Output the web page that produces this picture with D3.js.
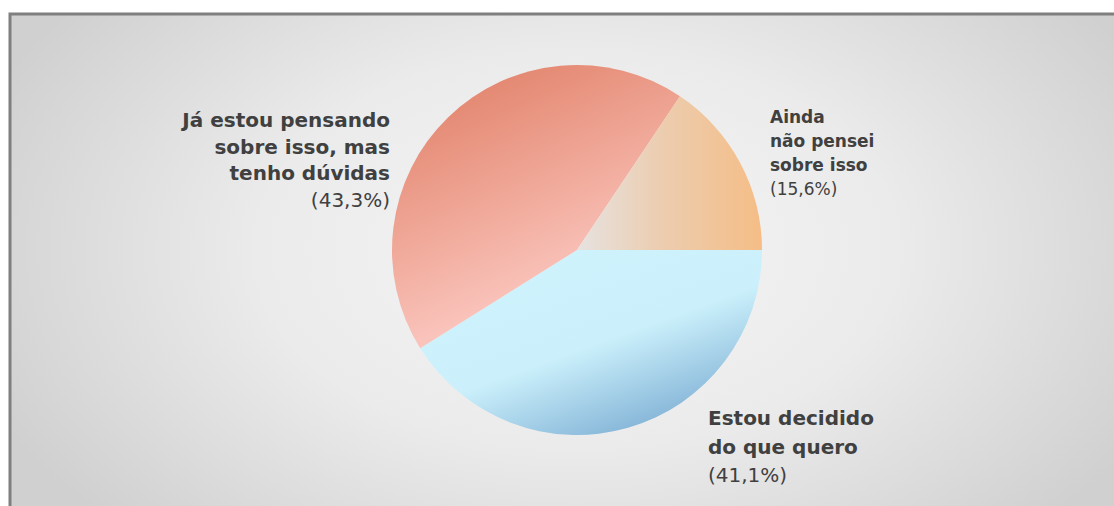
<!DOCTYPE html>
<html>
<head>
<meta charset="utf-8">
<script src="https://cdn.jsdelivr.net/npm/d3@7"></script>
<style>
  html, body { margin: 0; padding: 0; background: #ffffff; }
  svg { display: block; }
</style>
</head>
<body>
<svg id="chart" width="1114" height="506"></svg>
<script>
// Survey answers, in drawing order (clockwise from 3 o'clock)
const categories = ["Estou decidido do que quero", "Já estou pensando sobre isso, mas tenho dúvidas", "Ainda não pensei sobre isso"];
const values = [41.1, 43.3, 15.6];
const percentLabels = ["(41,1%)", "(43,3%)", "(15,6%)"];
const labelLines = [
  ["Estou decidido", "do que quero"],
  ["Já estou pensando", "sobre isso, mas", "tenho dúvidas"],
  ["Ainda", "não pensei", "sobre isso"]
];

const W = 1114, H = 506;
const cx = 577, cy = 250, R = 185;

const svg = d3.select("#chart");
const defs = svg.append("defs");

// Background: soft radial gray
const bg = defs.append("radialGradient").attr("id", "bgGrad")
  .attr("gradientUnits", "userSpaceOnUse")
  .attr("cx", cx).attr("cy", cy).attr("r", 640)
  .attr("gradientTransform", `translate(${cx},${cy}) scale(1,0.62) translate(${-cx},${-cy})`);
bg.append("stop").attr("offset", "0").attr("stop-color", "#f5f5f5");
bg.append("stop").attr("offset", "0.5").attr("stop-color", "#ebebeb");
bg.append("stop").attr("offset", "1").attr("stop-color", "#d0d0d0");

svg.append("rect").attr("x", 10).attr("y", 14).attr("width", W).attr("height", H)
  .attr("fill", "url(#bgGrad)")
  .attr("stroke", "#7f7f7f").attr("stroke-width", 3);

// Slice gradients
function linGrad(id, x1, y1, x2, y2, stops) {
  const g = defs.append("linearGradient").attr("id", id)
    .attr("x1", x1).attr("y1", y1).attr("x2", x2).attr("y2", y2);
  stops.forEach(s => g.append("stop").attr("offset", s[0]).attr("stop-color", s[1]));
}
linGrad("gBlue", "0.15", "0.1", "0.75", "1", [["0", "#cff3fd"], ["0.5", "#cbf0fb"], ["1", "#78aad1"]]);
linGrad("gRed", "0.1", "0", "0.55", "1", [["0", "#df7c64"], ["0.5", "#f0a898"], ["1", "#ffd3d0"]]);
linGrad("gOrange", "0", "0", "1", "0", [["0", "#e6e2e0"], ["0.45", "#eccdb0"], ["1", "#f5bd86"]]);
const fills = ["url(#gBlue)", "url(#gRed)", "url(#gOrange)"];

const pie = d3.pie().sort(null).value(d => d)
  .startAngle(Math.PI / 2).endAngle(Math.PI / 2 + 2 * Math.PI);
const arcs = pie(values);
const arc = d3.arc().innerRadius(0).outerRadius(R);

const g = svg.append("g").attr("transform", `translate(${cx},${cy})`);
g.selectAll("path").data(arcs).enter().append("path")
  .attr("d", arc)
  .attr("fill", (d, i) => fills[i]);

// Labels
const labelSpecs = [
  { x: 708, y: 425, size: 20, lh: 28.5, anchor: "start" },
  { x: 390, y: 127, size: 20, lh: 26.5, anchor: "end" },
  { x: 770, y: 123, size: 17, lh: 24, anchor: "start" }
];
const labels = svg.append("g").attr("font-family", "'DejaVu Sans', sans-serif").attr("fill", "#404040");
labelSpecs.forEach((s, i) => {
  const t = labels.append("text")
    .attr("x", s.x).attr("y", s.y)
    .attr("text-anchor", s.anchor)
    .attr("font-size", s.size);
  labelLines[i].forEach((line, k) => {
    t.append("tspan").attr("x", s.x).attr("y", s.y + k * s.lh)
      .attr("font-weight", "bold").text(line);
  });
  t.append("tspan").attr("x", s.x).attr("y", s.y + labelLines[i].length * s.lh)
    .attr("font-weight", "normal").text(percentLabels[i]);
});
</script>
</body>
</html>
